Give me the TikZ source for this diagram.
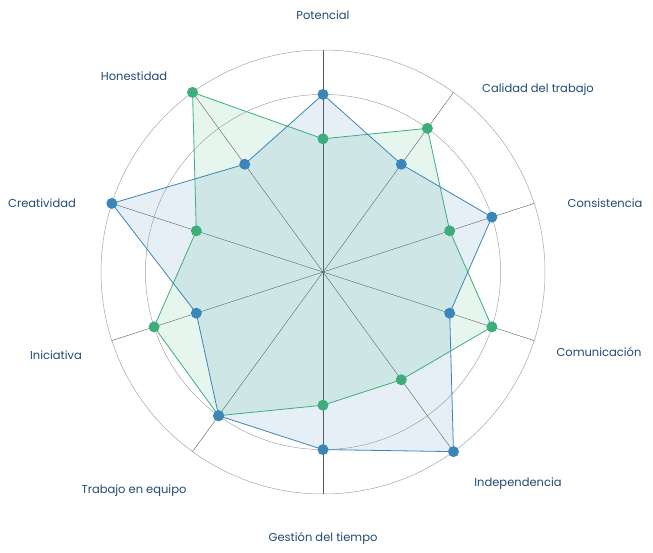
\documentclass[tikz,border=0pt]{standalone}
\usepackage{fontspec}
\setmainfont{Poppins}
\usetikzlibrary{calc}
\definecolor{navy}{HTML}{1F4A73}
\definecolor{sblue}{HTML}{3A86B8}
\definecolor{sgreen}{HTML}{3DAE7B}
\tikzstyle{ring}=[draw=gray!70,line width=.5pt]
\tikzstyle{spoke}=[draw=gray!70!black,line width=.4pt]
\tikzstyle{lbl}=[text=navy,font=\fontsize{11.5}{13}\selectfont]
\tikzstyle{dot}=[circle,inner sep=0pt,minimum size=11pt]
\begin{document}
\begin{tikzpicture}[x=1pt,y=1pt]
	\useasboundingbox (0,0) rectangle (653,-552);
	\coordinate (c) at (323,-272);
	\draw[ring] (c) circle (177.6);
	\draw[ring] (c) circle (222);
	\foreach \i in {0,...,9}
	  \draw[spoke] (c) -- ($(c)+({90-36*\i}:222)$);
	% series
	\fill[sgreen,opacity=.13] \foreach \v [count=\i from 0] in {3,4,3,4,3,3,4,4,3,5}
	  {\ifnum\i=0 ($(c)+({90-36*\i}:{44.4*\v})$) \else -- ($(c)+({90-36*\i}:{44.4*\v})$)\fi} -- cycle;
	\fill[sblue,opacity=.13] \foreach \v [count=\i from 0] in {4,3,4,3,5,4,4,3,5,3}
	  {\ifnum\i=0 ($(c)+({90-36*\i}:{44.4*\v})$) \else -- ($(c)+({90-36*\i}:{44.4*\v})$)\fi} -- cycle;
	\foreach \v [count=\i from 0] in {3,4,3,4,3,3,4,4,3,5}
	  \coordinate (g\i) at ($(c)+({90-36*\i}:{44.4*\v})$);
	\foreach \v [count=\i from 0] in {4,3,4,3,5,4,4,3,5,3}
	  \coordinate (b\i) at ($(c)+({90-36*\i}:{44.4*\v})$);
	\draw[sgreen,line width=.8pt] (g0) -- (g1) -- (g2) -- (g3) -- (g4) -- (g5) -- (g6) -- (g7) -- (g8) -- (g9) -- cycle;
	\draw[sblue,line width=.8pt] (b0) -- (b1) -- (b2) -- (b3) -- (b4) -- (b5) -- (b6) -- (b7) -- (b8) -- (b9) -- cycle;
	\foreach \i in {0,...,9} {
	  \node[dot,fill=sgreen] (gd\i) at (g\i) {};
	  \node[dot,fill=sblue] (bd\i) at (b\i) {};
	}
	% labels
	\node[lbl] (potencial) at (323,-15) {Potencial};
	\node[lbl] (calidad) at (538,-90) {Calidad del trabajo};
	\node[lbl] (consistencia) at (605,-203) {Consistencia};
	\node[lbl] (comunicacion) at (599,-352) {Comunicación};
	\node[lbl] (independencia) at (518,-484) {Independencia};
	\node[lbl] (gestion) at (323,-538) {Gestión del tiempo};
	\node[lbl] (equipo) at (134,-491) {Trabajo en equipo};
	\node[lbl] (iniciativa) at (56,-355) {Iniciativa};
	\node[lbl] (creatividad) at (42,-203) {Creatividad};
	\node[lbl] (honestidad) at (134,-76) {Honestidad};
\end{tikzpicture}
\end{document}
